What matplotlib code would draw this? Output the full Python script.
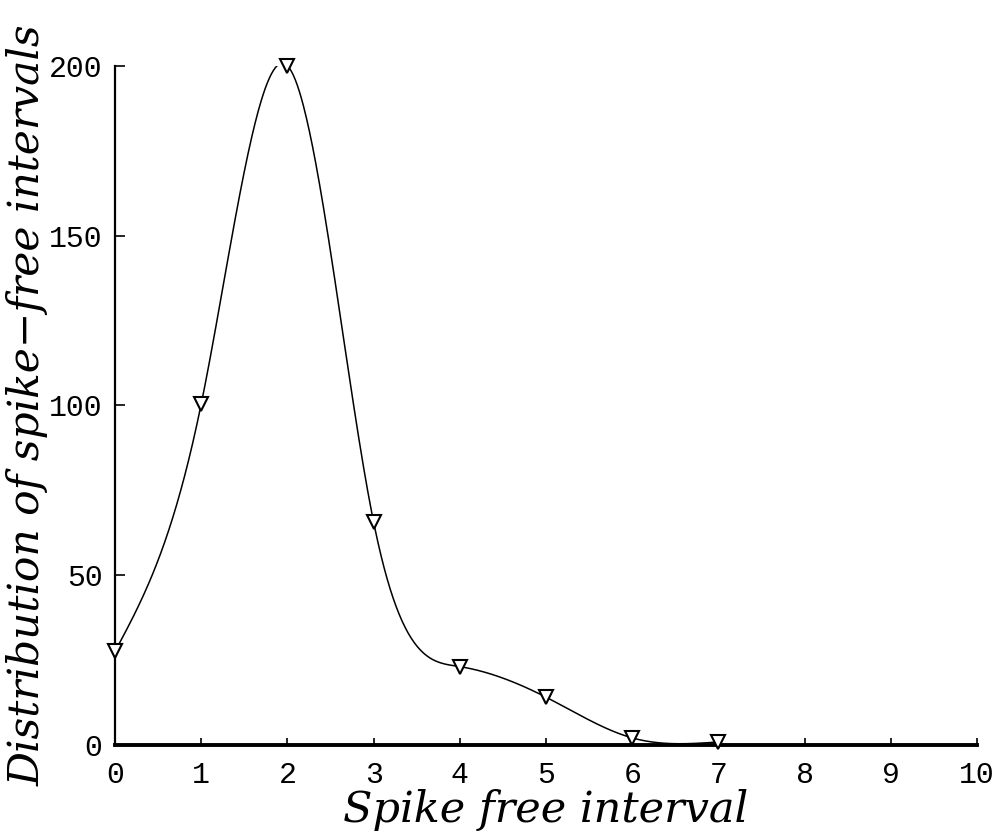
import numpy as np
import matplotlib.pyplot as plt

interval = [0, 1, 2, 3, 4, 5, 6, 7]
counts = [27.5, 100.5, 200, 65.5, 23, 14, 2, 0.8]
xticks = [0, 1, 2, 3, 4, 5, 6, 7, 8, 9, 10]
yticks = [0, 50, 100, 150, 200]


def natural_spline(x, y, xs):
    x = np.asarray(x, float)
    y = np.asarray(y, float)
    n = len(x)
    h = np.diff(x)
    A = np.zeros((n, n))
    b = np.zeros(n)
    A[0, 0] = A[-1, -1] = 1
    for i in range(1, n - 1):
        A[i, i - 1] = h[i - 1]
        A[i, i] = 2 * (h[i - 1] + h[i])
        A[i, i + 1] = h[i]
        b[i] = 3 * ((y[i + 1] - y[i]) / h[i] - (y[i] - y[i - 1]) / h[i - 1])
    c = np.linalg.solve(A, b)
    out = np.empty_like(xs)
    for k, t in enumerate(xs):
        i = min(np.searchsorted(x, t, side="right") - 1, n - 2)
        i = max(i, 0)
        bi = (y[i + 1] - y[i]) / h[i] - h[i] * (2 * c[i] + c[i + 1]) / 3
        di = (c[i + 1] - c[i]) / (3 * h[i])
        dt = t - x[i]
        out[k] = y[i] + bi * dt + c[i] * dt ** 2 + di * dt ** 3
    return out


xs = np.linspace(interval[0], interval[-1], 600)
ys = np.clip(natural_spline(interval, counts, xs), 0, None)

fig = plt.figure(figsize=(10.01, 8.33), dpi=100)
ax = fig.add_axes([0.115, 0.106, 0.861, 0.815])

ax.plot(xs, ys, color="black", lw=1.1)
ax.plot(interval, counts, linestyle="none", marker="v", markersize=10,
        markerfacecolor="white", markeredgecolor="black", markeredgewidth=1.5,
        clip_on=False, zorder=3)

ax.set_xlim(0, 10)
ax.set_ylim(0, 200)
ax.set_xticks(xticks)
ax.set_yticks(yticks)
ax.spines["top"].set_visible(False)
ax.spines["right"].set_visible(False)
ax.spines["left"].set_linewidth(1.6)
ax.spines["bottom"].set_linewidth(2.8)
ax.tick_params(axis="x", direction="in", length=5, width=1.2, pad=12,
               labelsize=21.5)
ax.tick_params(axis="y", direction="in", length=7, width=1.2, pad=9,
               labelsize=21.5)
for lab in ax.get_xticklabels() + ax.get_yticklabels():
    lab.set_family("Liberation Mono")

ax.set_xlabel("Spike free interval", fontsize=31, family="DejaVu Serif",
              style="italic", labelpad=0)
ax.set_ylabel("Distribution of spike\u2212free intervals", fontsize=30.5,
              family="DejaVu Serif", style="italic")
ax.yaxis.set_label_coords(-0.077, 0.5)

fig.savefig("out.png", dpi=100)
